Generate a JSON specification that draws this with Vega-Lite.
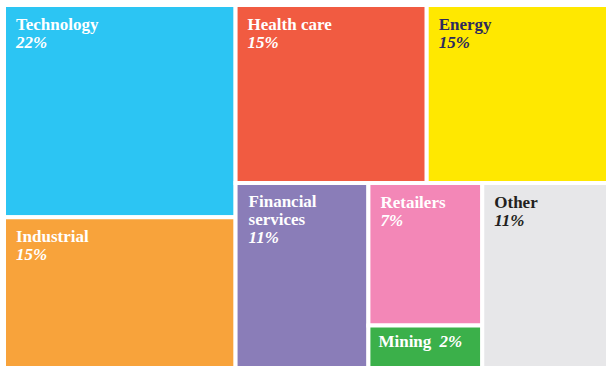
{
  "$schema": "https://vega.github.io/schema/vega-lite/v6.json",
  "width": 612,
  "height": 373,
  "autosize": {"type": "fit", "contains": "padding"},
  "padding": {"left": 2, "top": 3, "right": 2, "bottom": 3},
  "background": "white",
  "config": {
    "view": {"stroke": null},
    "text": {"font": "Liberation Serif", "fontSize": 17, "fontWeight": "bold", "align": "left", "baseline": "alphabetic"}
  },
  "data": {
    "values": [
      {"name": "Technology", "share": 0.22, "value": 22.4, "g1": "left", "g2": "Technology", "g3": "Technology", "ord": 1},
      {"name": "Industrial", "share": 0.15, "value": 15.9, "g1": "left", "g2": "Industrial", "g3": "Industrial", "ord": 2},
      {"name": "Health care", "share": 0.15, "value": 15.5, "g1": "right", "g2": "top", "g3": "Health care", "ord": 3},
      {"name": "Energy", "share": 0.15, "value": 14.7, "g1": "right", "g2": "top", "g3": "Energy", "ord": 4},
      {"name": "Financial services", "share": 0.11, "value": 11.2, "g1": "right", "g2": "bottom", "g3": "Financial services", "ord": 5},
      {"name": "Retailers", "share": 0.07, "value": 7.4, "g1": "right", "g2": "bottom", "g3": "Retailers+Mining", "ord": 6},
      {"name": "Mining", "share": 0.02, "value": 2.2, "g1": "right", "g2": "bottom", "g3": "Retailers+Mining", "ord": 7},
      {"name": "Other", "share": 0.11, "value": 10.6, "g1": "right", "g2": "bottom", "g3": "Other", "ord": 8}
    ]
  },
  "transform": [
    {"stack": "value", "groupby": [], "sort": [{"field": "ord", "order": "ascending"}], "offset": "normalize", "as": ["a0", "a1"]},
    {"joinaggregate": [{"op": "min", "field": "a0", "as": "X0"}, {"op": "max", "field": "a1", "as": "X1"}], "groupby": ["g1"]},
    {"stack": "value", "groupby": ["g1"], "sort": [{"field": "ord", "order": "ascending"}], "offset": "normalize", "as": ["b0", "b1"]},
    {"joinaggregate": [{"op": "min", "field": "b0", "as": "Y0"}, {"op": "max", "field": "b1", "as": "Y1"}], "groupby": ["g1", "g2"]},
    {"stack": "value", "groupby": ["g1", "g2"], "sort": [{"field": "ord", "order": "ascending"}], "offset": "normalize", "as": ["c0", "c1"]},
    {"joinaggregate": [{"op": "min", "field": "c0", "as": "U0"}, {"op": "max", "field": "c1", "as": "U1"}], "groupby": ["g1", "g2", "g3"]},
    {"stack": "value", "groupby": ["g1", "g2", "g3"], "sort": [{"field": "ord", "order": "ascending"}], "offset": "normalize", "as": ["d0", "d1"]},
    {"calculate": "datum.X0 + (datum.X1 - datum.X0) * datum.U0", "as": "x0"},
    {"calculate": "datum.X0 + (datum.X1 - datum.X0) * datum.U1", "as": "x1"},
    {"calculate": "datum.Y0 + (datum.Y1 - datum.Y0) * datum.d0", "as": "y0"},
    {"calculate": "datum.Y0 + (datum.Y1 - datum.Y0) * datum.d1", "as": "y1"}
  ],
  "encoding": {
    "x": {"field": "x0", "type": "quantitative", "scale": {"domain": [0, 1], "nice": false, "zero": false}, "axis": null},
    "y": {"field": "y0", "type": "quantitative", "scale": {"domain": [0, 1], "nice": false, "zero": false, "reverse": true}, "axis": null}
  },
  "layer": [
    {
      "mark": {"type": "rect", "stroke": "white", "strokeWidth": 4},
      "encoding": {
        "x2": {"field": "x1"},
        "y2": {"field": "y1"},
        "color": {
          "field": "name",
          "type": "nominal",
          "legend": null,
          "scale": {
            "domain": ["Technology", "Industrial", "Health care", "Energy", "Financial services", "Retailers", "Mining", "Other"],
            "range": ["#2cc5f3", "#f8a33b", "#f15b41", "#ffe800", "#8a7db8", "#f387b7", "#3bb04a", "#e7e7e9"]
          }
        }
      }
    },
    {
      "transform": [{"filter": {"not": {"field": "name", "oneOf": ["Financial services", "Mining"]}}}],
      "mark": {"type": "text", "dx": 12, "dy": 25},
      "encoding": {
        "text": {"field": "name", "type": "nominal"},
        "color": {"condition": [{"test": "datum.name === 'Energy'", "value": "#2d2a5e"}, {"test": "datum.name === 'Other'", "value": "#231f20"}], "value": "white"}
      }
    },
    {
      "transform": [{"filter": {"not": {"field": "name", "oneOf": ["Financial services", "Mining"]}}}],
      "mark": {"type": "text", "dx": 12, "dy": 43, "fontStyle": "italic"},
      "encoding": {
        "text": {"field": "share", "type": "quantitative", "format": ".0%"},
        "color": {"condition": [{"test": "datum.name === 'Energy'", "value": "#2d2a5e"}, {"test": "datum.name === 'Other'", "value": "#231f20"}], "value": "white"}
      }
    },
    {
      "transform": [{"filter": {"field": "name", "equal": "Financial services"}}],
      "mark": {"type": "text", "dx": 13, "dy": 24, "lineBreak": " ", "lineHeight": 18, "color": "white"},
      "encoding": {"text": {"field": "name", "type": "nominal"}}
    },
    {
      "transform": [{"filter": {"field": "name", "equal": "Financial services"}}],
      "mark": {"type": "text", "dx": 13, "dy": 60, "fontStyle": "italic", "color": "white"},
      "encoding": {"text": {"field": "share", "type": "quantitative", "format": ".0%"}}
    },
    {
      "transform": [{"filter": {"field": "name", "equal": "Mining"}}],
      "mark": {"type": "text", "dx": 10, "dy": 21, "color": "white"},
      "encoding": {"text": {"field": "name", "type": "nominal"}}
    },
    {
      "transform": [{"filter": {"field": "name", "equal": "Mining"}}],
      "mark": {"type": "text", "dx": 71, "dy": 21, "fontStyle": "italic", "color": "white"},
      "encoding": {"text": {"field": "share", "type": "quantitative", "format": ".0%"}}
    }
  ]
}
